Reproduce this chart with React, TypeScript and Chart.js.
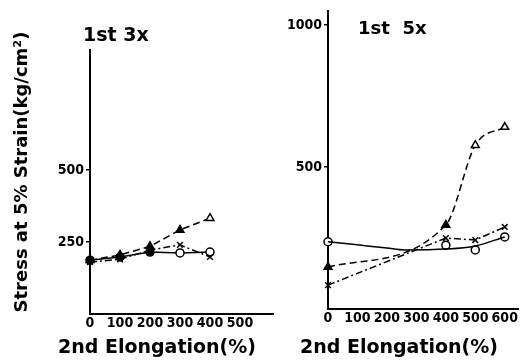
import React, { useEffect, useRef } from "react";
import { Chart, registerables } from "chart.js";

Chart.register(...registerables);

// ---- Panel 1: 1st 3x ----
const elong3 = [0, 100, 200, 300, 400];
const tri3 = [187, 205, 235, 292, 333];
const triFilled3 = [true, true, true, true, false];
const circ3 = [187, 198, 215, 212, 215];
const circFilled3 = [true, true, true, false, false];
const cross3 = [180, 190, 222, 240, 198];
const xTicks3 = [0, 100, 200, 300, 400, 500];
const yTicks3 = [250, 500];

// ---- Panel 2: 1st 5x ----
const elong5 = [0, 400, 500, 600];
const tri5 = [148, 296, 577, 641];
const triFilled5 = [true, true, false, false];
const circ5 = [237, 225, 208, 254];
const circFilled5 = [false, false, false, false];
const cross5 = [84, 250, 243, 289];
const fitX5 = [0, 100, 200, 260, 400, 500, 600];
const fitCirc5 = [237, 226, 215, 208, 211, 222, 254];
const xTicks5 = [0, 100, 200, 300, 400, 500, 600];
const yTicks5 = [500, 1000];

const FONT = "'DejaVu Sans', 'Liberation Sans', sans-serif";
const TICK_FONT = "'DejaVu Sans Condensed', 'DejaVu Sans', sans-serif";

const pts = (xs: number[], ys: number[]) => xs.map((x, i) => ({ x, y: ys[i] }));
const fills = (f: boolean[]) => f.map((b) => (b ? "#000" : "#fff"));

type TextItem = { text: string; x: number; y: number; size: number; rotate?: boolean; align?: CanvasTextAlign };

const textPlugin = (items: TextItem[]) => ({
  id: "texts",
  afterDraw(chart: any) {
    const ctx = chart.ctx as CanvasRenderingContext2D;
    ctx.save();
    ctx.fillStyle = "#000";
    ctx.textBaseline = "middle";
    for (const it of items) {
      ctx.save();
      ctx.font = `bold ${it.size}px ${FONT}`;
      ctx.textAlign = it.align || "center";
      ctx.translate(it.x, it.y);
      if (it.rotate) ctx.rotate(-Math.PI / 2);
      ctx.fillText(it.text, 0, 0);
      ctx.restore();
    }
    ctx.restore();
  },
});

function makeOptions(p: {
  xMax: number; yMax: number; xTicks: number[]; yTicks: number[];
  yWidth: number; xHeight: number; padRight: number; padTop: number;
}) {
  const tickFont = { family: TICK_FONT, size: 14, weight: "bold" as const };
  return {
    responsive: false,
    animation: false as const,
    layout: { padding: { left: 0, right: p.padRight, top: p.padTop, bottom: 0 } },
    plugins: { legend: { display: false }, tooltip: { enabled: false }, title: { display: false } },
    scales: {
      x: {
        type: "linear" as const,
        min: 0,
        max: p.xMax,
        afterBuildTicks: (s: any) => { s.ticks = p.xTicks.map((v) => ({ value: v })); },
        afterFit: (s: any) => { s.height = p.xHeight; },
        grid: { display: false, drawOnChartArea: false, drawTicks: false },
        border: { display: true, color: "#000", width: 2 },
        ticks: { color: "#000", padding: 1, maxRotation: 0, autoSkip: false, font: tickFont, callback: (v: any) => String(v) },
      },
      y: {
        type: "linear" as const,
        min: 0,
        max: p.yMax,
        afterBuildTicks: (s: any) => { s.ticks = p.yTicks.map((v) => ({ value: v })); },
        afterFit: (s: any) => { s.width = p.yWidth; },
        grid: { display: true, drawOnChartArea: false, drawTicks: true, tickLength: 4, color: "#000", lineWidth: 1.5 },
        border: { display: true, color: "#000", width: 2 },
        ticks: { color: "#000", padding: 2, font: tickFont, callback: (v: any) => String(v) },
      },
    },
  };
}

const lineBase = { borderColor: "#000", borderWidth: 1.5, pointBorderColor: "#000", pointBorderWidth: 1.5, showLine: true, clip: false as const };

export default function App() {
  const leftRef = useRef<HTMLCanvasElement>(null);
  const rightRef = useRef<HTMLCanvasElement>(null);

  useEffect(() => {
    const left = new Chart(leftRef.current!, {
      type: "scatter",
      data: {
        datasets: [
          { ...lineBase, data: pts(elong3, tri3), pointStyle: "triangle", pointRadius: 4.5, borderDash: [7, 4], pointBackgroundColor: fills(triFilled3) },
          { ...lineBase, data: pts(elong3, cross3), pointStyle: "crossRot", pointRadius: 4, borderDash: [7, 3, 2, 3] },
          { ...lineBase, data: pts(elong3, circ3), pointStyle: "circle", pointRadius: 4, pointBackgroundColor: fills(circFilled3) },
        ] as any,
      },
      options: makeOptions({ xMax: 610, yMax: 917, xTicks: xTicks3, yTicks: yTicks3, yWidth: 90, xHeight: 48, padRight: 7, padTop: 50 }) as any,
      plugins: [textPlugin([
        { text: "1st 3x", x: 83, y: 36, size: 19, align: "left" },
        { text: "Stress at 5% Strain(kg/cm²)", x: 22, y: 172, size: 18, rotate: true },
        { text: "2nd Elongation(%)", x: 157, y: 348, size: 19 },
      ])],
    });

    const right = new Chart(rightRef.current!, {
      type: "scatter",
      data: {
        datasets: [
          { ...lineBase, data: pts(elong5, tri5), pointStyle: "triangle", pointRadius: 4.5, borderDash: [7, 4], cubicInterpolationMode: "monotone", pointBackgroundColor: fills(triFilled5) },
          { ...lineBase, data: pts(elong5, cross5), pointStyle: "crossRot", pointRadius: 4, borderDash: [7, 3, 2, 3] },
          { ...lineBase, data: pts(fitX5, fitCirc5), pointRadius: 0, cubicInterpolationMode: "monotone" },
          { ...lineBase, showLine: false, data: pts(elong5, circ5), pointStyle: "circle", pointRadius: 4, pointBackgroundColor: fills(circFilled5) },
        ] as any,
      },
      options: makeOptions({ xMax: 645, yMax: 1050, xTicks: xTicks5, yTicks: yTicks5, yWidth: 58, xHeight: 53, padRight: 7, padTop: 11 }) as any,
      plugins: [textPlugin([
        { text: "1st  5x", x: 88, y: 29, size: 18, align: "left" },
        { text: "2nd Elongation(%)", x: 129, y: 348, size: 19 },
      ])],
    });

    return () => { left.destroy(); right.destroy(); };
  }, []);

  return (
    <div style={{ position: "fixed", left: 0, top: 0, width: 525, height: 362, background: "#fff", overflow: "hidden" }}>
      <canvas ref={leftRef} width={280} height={362} style={{ position: "absolute", left: 0, top: 0, width: 280, height: 362 }} />
      <canvas ref={rightRef} width={255} height={362} style={{ position: "absolute", left: 270, top: 0, width: 255, height: 362 }} />
    </div>
  );
}
